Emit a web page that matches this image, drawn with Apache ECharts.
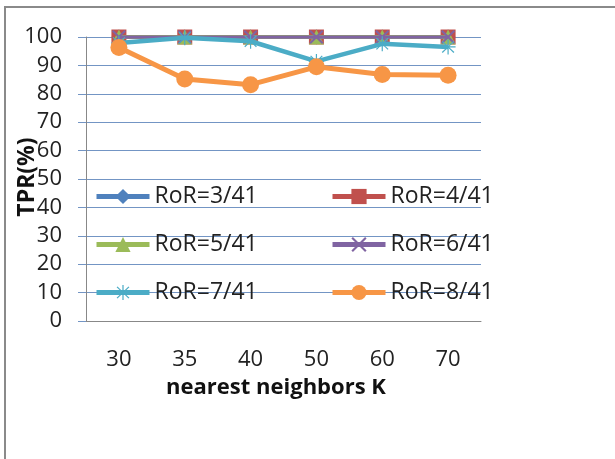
<!DOCTYPE html>
<html>
<head>
<meta charset="utf-8">
<script src="https://cdn.jsdelivr.net/npm/echarts@6/dist/echarts.min.js"></script>
<style>
html,body{margin:0;padding:0;background:#fff;}
#chart{width:615px;height:459px;}
</style>
</head>
<body>
<div id="chart"></div>
<script>
const categories = ['30', '35', '40', '50', '60', '70'];
const ror3 = [100, 100, 100, 100, 100, 100];
const ror4 = [100, 100, 100, 100, 100, 100];
const ror5 = [100, 100, 100, 100, 100, 100];
const ror6 = [100, 100, 100, 100, 100, 100];
const ror7 = [97.9, 99.7, 98.5, 91.4, 97.6, 96.5];
const ror8 = [96.3, 85.2, 83.2, 89.5, 86.8, 86.5];
const seriesNames = ['RoR=3/41', 'RoR=4/41', 'RoR=5/41', 'RoR=6/41', 'RoR=7/41', 'RoR=8/41'];
const yTicks = [0, 10, 20, 30, 40, 50, 60, 70, 80, 90, 100];

const FONT = '"Open Sans", sans-serif';
const colors = ['#4F81BD', '#C0504D', '#9BBB59', '#8064A2', '#4BACC6', '#F79646'];
const xPath = 'path://M0,1L1,0L5,4L9,0L10,1L6,5L10,9L9,10L5,6L1,10L0,9L4,5Z';
const starPath = 'path://M4.6,0H5.4V4.2L8.6,1L9.2,1.6L5.9,4.6H10V5.4H5.9L9.2,8.4L8.6,9L5.4,5.8V10H4.6V5.8L1.4,9L0.8,8.4L4.1,5.4H0V4.6H4.1L0.8,1.6L1.4,1L4.6,4.2Z';
const symbols = ['diamond', 'rect', 'triangle', xPath, starPath, 'circle'];
const symbolSizes = [15, 15, 15, 14, 15, 17];
const lineWidths = [4, 4, 4, 3.5, 4.5, 5];
const dataSets = [ror3, ror4, ror5, ror6, ror7, ror8];

const chart = echarts.init(document.getElementById('chart'));

const series = seriesNames.map((name, i) => ({
  name: name,
  type: 'line',
  data: dataSets[i],
  symbol: symbols[i],
  symbolSize: symbolSizes[i],
  showSymbol: true,
  animation: false,
  z: 2 + i,
  lineStyle: { color: colors[i], width: lineWidths[i] },
  itemStyle: { color: colors[i], borderWidth: 0 }
}));

const legendPos = [
  { left: 94, top: 185 },
  { left: 330, top: 185 },
  { left: 94, top: 233 },
  { left: 330, top: 233 },
  { left: 94, top: 281 },
  { left: 330, top: 281 }
];
const legends = seriesNames.map((name, i) => ({
  data: [name],
  left: legendPos[i].left,
  top: legendPos[i].top,
  padding: 0,
  itemWidth: 53,
  itemHeight: 19,
  itemGap: 3,
  selectedMode: false,
  lineStyle: { width: 5 },
  textStyle: { fontFamily: FONT, fontSize: 23, color: '#222' }
}));

chart.setOption({
  backgroundColor: '#fff',
  animation: false,
  grid: { left: 86, right: 134, top: 37, bottom: 138, containLabel: false },
  legend: legends,
  xAxis: {
    type: 'category',
    data: categories,
    boundaryGap: true,
    axisLine: { show: true, lineStyle: { color: '#888', width: 1 } },
    axisTick: { show: false },
    axisLabel: { fontFamily: FONT, fontSize: 22, color: '#222', margin: 28 },
    splitLine: { show: false }
  },
  yAxis: {
    type: 'value',
    min: 0, max: 100, interval: 10,
    axisLine: { show: true, lineStyle: { color: '#888', width: 1 } },
    axisTick: { show: true, length: 8, lineStyle: { color: '#7395C4', width: 1 } },
    axisLabel: {
      fontFamily: FONT, fontSize: 22, color: '#222', margin: 24,
      formatter: v => (yTicks.indexOf(v) >= 0 ? String(v) : '')
    },
    splitLine: { show: true, lineStyle: { color: '#7395C4', width: 1 } }
  },
  graphic: [
    {
      type: 'polyline',
      shape: { points: [[5, 470], [5, 7], [620, 7]] },
      style: { stroke: '#8a8a8a', lineWidth: 2, fill: null },
      z: 100
    },
    {
      type: 'text',
      x: 276, y: 388,
      style: {
        text: 'nearest neighbors K',
        font: 'bold 22px "Open Sans", sans-serif',
        fill: '#111',
        textAlign: 'center',
        textVerticalAlign: 'middle'
      }
    },
    {
      type: 'text',
      x: 27, y: 177,
      rotation: Math.PI / 2,
      style: {
        text: 'TPR(%)',
        font: 'bold 23px "Open Sans", sans-serif',
        fill: '#111',
        textAlign: 'center',
        textVerticalAlign: 'middle'
      }
    }
  ],
  series: series
});
</script>
</body>
</html>
